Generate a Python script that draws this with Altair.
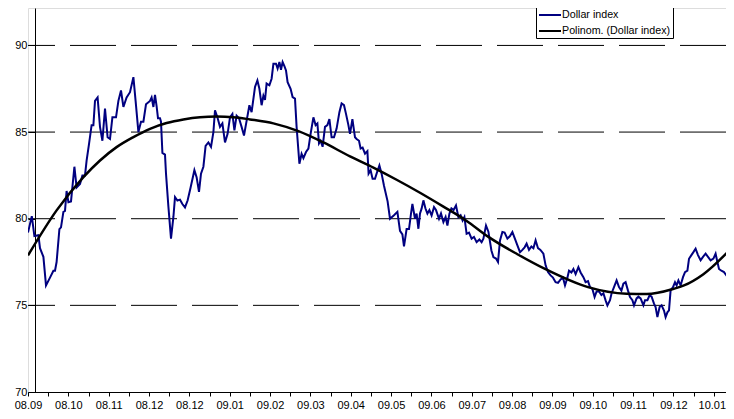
import altair as alt
import pandas as pd

# ---- data -------------------------------------------------------------
MONTH_LABELS = ["08.09", "08.10", "08.11", "08.12", "08.12", "09.01", "09.02",
                "09.03", "09.04", "09.05", "09.06", "09.07", "09.08", "09.09",
                "09.10", "09.11", "09.12", "10.01"]
DAYS_PER_LABEL = 20.17
Y_TICKS = [70, 75, 80, 85, 90]
GRID_VALUES = [75, 80, 85, 90]

DAYS = [0, 1.9, 3.2, 5.2, 6, 7.7, 9, 11, 12.7, 13.5, 14.3, 15.7, 16.5, 17.7, 18.5, 19.3, 20.2, 21.5,
        23.2, 24.3, 26, 27.2, 28.5, 29.3, 30.5, 31.8, 32.7, 33.5, 34.8, 36, 37.2, 38.5, 39.8, 41,
        42.2, 44, 45.2, 46.5, 47.7, 49.3, 51, 52.7, 53.8, 55.2, 56.5, 57.7, 59, 61, 61.8, 62.7,
        63.5, 64.3, 65, 66, 66.5, 67.2, 68.5, 69, 70.2, 71.5, 72.7, 73.5, 74.7, 76, 77.2, 78.5,
        79.8, 81.3, 83.2, 84.3, 85.5, 86.5, 87.7, 88.8, 90.2, 91.5, 92.7, 93.5, 94.7, 96, 97.2,
        98.5, 99.8, 101, 102.2, 103.2, 104.3, 105.5, 106.8, 108, 109.3, 110.7, 111.8, 113.5,
        114.7, 115.7, 116.8, 117.7, 118.5, 119.3, 120.7, 121.8, 122.7, 124, 124.8, 125.7, 126.5,
        127.3, 128.2, 129, 129.8, 131.3, 132.3, 133.5, 134.3, 135.7, 136.8, 137.7, 139, 140.2,
        141.3, 142.7, 143.8, 144.7, 145.5, 146.3, 147.3, 148.5, 149.7, 150.7, 151.8, 153, 154.3,
        155.7, 156.8, 158, 159, 160.2, 161, 162.2, 163.5, 164.3, 165.5, 166.3, 167.3, 168.5,
        169.7, 170.3, 171.3, 172.3, 173.5, 174.3, 175.7, 176.8, 178, 179.8, 181, 183, 184.7, 186,
        187.2, 188, 189.3, 190.5, 191.5, 192.2, 193.5, 194.3, 195.2, 196, 196.8, 197.7, 198.7,
        199.7, 200.7, 201.8, 203, 204, 205.5, 206.5, 207.7, 208.8, 209.7, 210.7, 211.7, 212.8,
        214, 215.2, 216.3, 217.3, 218.2, 219.3, 220.5, 221.8, 223, 224.3, 225.7, 226.8, 227.7,
        229, 230.2, 231.7, 232.7, 234, 235, 236, 237.2, 238.3, 239.7, 241, 242.2, 243.3, 244.7,
        246, 247.2, 248.3, 249.3, 250.5, 251.7, 252.7, 253.8, 255, 256.2, 257.7, 258.8, 260,
        261.3, 262.5, 263.8, 265, 266.3, 267.5, 268.5, 269.7, 270.5, 271.7, 272.7, 273.8, 275.2,
        276.3, 277.7, 278.8, 280, 281, 282.2, 283.3, 284.3, 285.5, 286.7, 287.7, 288.8, 289.7,
        291, 291.8, 293, 294.3, 295.5, 296.7, 297.7, 298.8, 300, 301, 302.2, 303, 304.3, 305.2,
        306.3, 307.7, 308.5, 309.7, 310.8, 311.8, 313, 313.8, 314.7, 315.8, 316.8, 318, 318.8,
        319.7, 320.5, 321.3, 322.5, 323.5, 324.3, 325.2, 326.3, 327.5, 328.5, 329.7, 330.5,
        331.7, 332.7, 333.8, 335, 336.3, 337.5, 338.8, 340, 341.3, 342.7, 343.8, 344.7, 345.5,
        346.7, 348, 349.2, 350.2, 351.3, 352.3, 353]

DOLLAR = [79.2, 80.15, 79.0, 79.05, 78.3, 77.8, 76.15, 76.6, 77.0, 77.0, 77.5, 79.4, 79.5, 80.4,
          80.45, 81.6, 80.95, 81.0, 83.0, 81.8, 82.0, 82.5, 82.5, 83.35, 84.3, 85.4, 85.4, 86.8,
          87.0, 85.3, 84.5, 86.35, 84.7, 84.6, 85.85, 85.85, 86.8, 87.4, 86.45, 87.0, 87.3,
          88.17, 86.8, 85.0, 85.6, 85.6, 86.6, 86.8, 87.0, 86.45, 87.15, 86.5, 85.8, 85.8, 85.6,
          83.8, 83.7, 82.6, 80.7, 78.85, 80.1, 81.25, 81.05, 81.1, 80.85, 80.65, 81.05, 81.8,
          82.8, 82.4, 81.55, 82.6, 83.0, 84.2, 84.4, 84.15, 85.0, 86.25, 85.85, 85.3, 85.5, 84.4,
          84.9, 85.85, 86.05, 85.1, 85.95, 85.8, 85.3, 84.8, 85.65, 86.55, 86.15, 87.6, 87.98,
          87.5, 86.55, 87.1, 86.85, 87.8, 87.7, 88.08, 88.94, 88.94, 88.66, 89.04, 88.6, 89.04,
          88.8, 88.56, 87.88, 87.5, 87.02, 86.93, 85.3, 83.17, 83.75, 83.5, 83.85, 84.05, 84.9,
          85.85, 85.4, 85.5, 84.35, 84.5, 84.15, 85.3, 85.4, 85.75, 84.7, 84.7, 85.2, 86.15,
          86.65, 86.55, 86.05, 85.4, 84.9, 85.75, 84.7, 84.6, 84.5, 84.05, 84.1, 83.75, 83.9,
          82.6, 82.8, 82.3, 82.3, 82.6, 83.07, 82.6, 81.9, 81.0, 80.0, 80.2, 80.4, 79.3, 79.1,
          78.4, 79.4, 79.4, 80.3, 80.85, 80.0, 80.3, 79.42, 80.3, 80.58, 81.06, 80.6, 80.29,
          80.5, 80.19, 80.67, 80.5, 80.0, 80.3, 79.81, 80.1, 79.61, 80.29, 80.6, 80.5, 80.77,
          80.09, 80.2, 79.9, 80.1, 79.13, 79.2, 78.85, 78.95, 78.65, 78.8, 78.65, 78.85, 79.61,
          79.25, 78.17, 77.79, 77.7, 77.5, 78.75, 79.23, 79.2, 78.85, 79.0, 79.23, 78.9, 78.46,
          78.07, 78.2, 78.35, 78.56, 78.2, 78.4, 78.3, 78.75, 78.3, 78.2, 77.98, 77.31, 76.92,
          76.73, 76.6, 76.34, 76.3, 76.5, 76.6, 76.15, 76.6, 77.0, 76.9, 77.1, 76.8, 77.21, 76.9,
          76.63, 76.34, 76.4, 76.05, 75.95, 75.48, 75.8, 75.8, 75.6, 75.7, 75.29, 75.0, 75.3,
          75.7, 76.05, 76.44, 76.05, 75.85, 76.25, 76.34, 75.85, 75.48, 75.3, 75.0, 75.4, 75.5,
          75.4, 75.0, 75.3, 75.3, 75.58, 75.5, 75.1, 74.9, 74.32, 74.9, 75.0, 74.7, 74.32, 74.6,
          74.71, 75.86, 76.05, 76.34, 76.15, 76.44, 76.15, 76.63, 76.92, 77.0, 77.69, 77.9,
          78.07, 78.27, 77.9, 77.6, 77.8, 77.98, 77.8, 77.6, 77.7, 77.98, 77.5, 77.1, 77.0,
          76.92, 76.73, 77.15, 77.1, 78.17, 78.56]

TREND_DAYS = [0, 14.3, 27.7, 36, 44.3, 52.7, 61, 69.3, 77.7, 86, 94.3, 102.7, 111, 122.7, 135.2,
              147.7, 161, 172.7, 184.3, 196, 207.7, 219, 230.2, 244.7, 258.5, 280, 299.3, 309.3,
              322.7, 328, 337.7, 353]
TREND = [77.88, 80.48, 82.4, 83.36, 84.13, 84.71, 85.19, 85.52, 85.73, 85.86, 85.9, 85.86, 85.73,
         85.5, 85.05, 84.4, 83.6, 82.95, 82.25, 81.5, 80.7, 79.9, 78.95, 77.95, 77.1, 76.05,
         75.67, 75.65, 75.95, 76.15, 76.8, 78.45]

SERIES = ["Dollar index", "Polinom. (Dollar index)"]
COLORS = ["#000080", "#000000"]

# ---- frames -----------------------------------------------------------
df = pd.concat([
    pd.DataFrame({"day": DAYS, "value": DOLLAR, "series": SERIES[0]}),
    pd.DataFrame({"day": TREND_DAYS, "value": TREND, "series": SERIES[1]}),
])
grid_df = pd.DataFrame({"value": GRID_VALUES})

X_MAX = 349
Y_MIN, Y_MAX = 70, 92.16
FONT = "Liberation Sans"

half = DAYS_PER_LABEL / 2
tick_values = [round(i * half, 3) for i in range(int(X_MAX / half) + 1)]
labels_js = "[" + ",".join("'" + s + "'" for s in MONTH_LABELS) + "]"
label_expr = (f"(round(datum.value/{half}) % 2 == 0) ? "
              f"{labels_js}[round(datum.value/{half})/2] : ''")
last_label_day = (len(MONTH_LABELS) - 1) * DAYS_PER_LABEL

x_scale = alt.Scale(domain=[0, X_MAX], nice=False, zero=False)
y_scale = alt.Scale(domain=[Y_MIN, Y_MAX], nice=False, zero=False)

x_axis = alt.Axis(values=tick_values, labelExpr=label_expr, title=None, grid=False,
                  tickSize=4, labelPadding=3, labelFlush=False, labelOverlap=False,
                  labelBound=False, domainColor="black", tickColor="black",
                  labelColor="black", labelFont=FONT, labelFontSize=11,
                  labelOffset=alt.ConditionalAxisNumber(
                      condition={"test": f"datum.value > {last_label_day - 1}", "value": -2},
                      value=0))
y_axis = alt.Axis(values=Y_TICKS, title=None, grid=False, offset=-7, tickSize=7,
                  labelPadding=1, domainColor="black", tickColor="black",
                  labelColor="black", labelFont=FONT, labelFontSize=11)

grid = alt.Chart(grid_df).mark_rule(color="black", strokeWidth=1, strokeDash=[46, 15]).encode(
    y=alt.Y("value:Q", scale=y_scale, axis=y_axis)
)

color = alt.Color("series:N", scale=alt.Scale(domain=SERIES, range=COLORS),
                  legend=alt.Legend(title=None, orient="none", legendX=508, legendY=-1,
                                    direction="vertical",
                                    symbolType="M-2.2,0H2.2", symbolSize=100,
                                    symbolStrokeWidth=2, symbolOffset=6, labelOffset=6,
                                    labelFont=FONT, labelFontSize=10.7, labelColor="black",
                                    padding=2, rowPadding=5, strokeColor="black",
                                    fillColor="white", cornerRadius=0))

base = alt.Chart(df).encode(
    x=alt.X("day:Q", scale=x_scale, axis=x_axis),
    y=alt.Y("value:Q", scale=y_scale, axis=y_axis),
    color=color,
)

dollar = base.transform_filter(alt.datum.series == SERIES[0]).mark_line(
    strokeWidth=2, clip=True)
trend = base.transform_filter(alt.datum.series == SERIES[1]).mark_line(
    strokeWidth=2.5, interpolate="monotone", clip=True)

chart = alt.layer(grid, dollar, trend).properties(
    width=698, height=384,
    padding={"left": 20, "top": 0, "right": 0, "bottom": 19},
    autosize=alt.AutoSizeParams(type="none"),
).configure_view(strokeOpacity=0).configure(background="white")

chart.save("out.html", embed_options={"renderer": "svg", "actions": False})
